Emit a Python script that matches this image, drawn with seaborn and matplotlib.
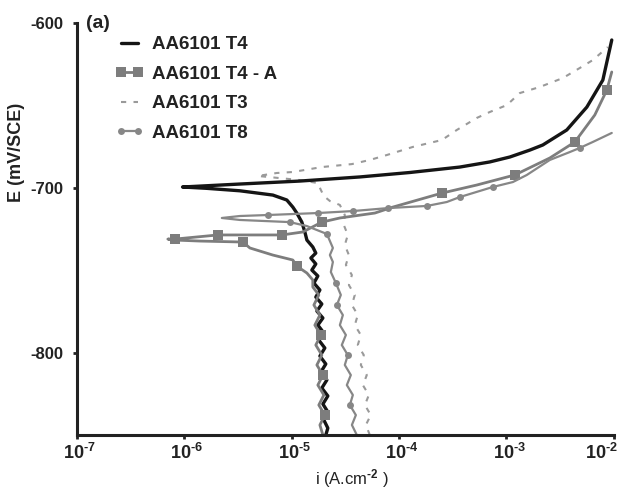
import numpy as np
import pandas as pd
import seaborn as sns
import matplotlib
matplotlib.use("Agg")
import matplotlib.pyplot as plt
import matplotlib.transforms as mtransforms
from matplotlib.lines import Line2D

# Polarisation curves: log10(i [A/cm2]) and E [mV/SCE]
t4_log_i = [-4.682, -4.663, -4.700, -4.663, -4.709, -4.663, -4.719, -4.672, -4.728, -4.682,
            -4.737, -4.691, -4.747, -4.700, -4.756, -4.709, -4.765, -4.719, -4.775, -4.737,
            -4.793, -4.756, -4.812, -4.775, -4.821, -4.775, -4.803, -4.858, -4.877, -4.905,
            -4.952, -4.989, -5.045, -5.175, -5.482, -5.793, -6.016, -5.482, -4.924, -4.365,
            -3.899, -3.434, -3.155, -2.968, -2.782, -2.661, -2.438, -2.251, -2.102, -2.019]
t4_E = [-850.0, -845.8, -840.9, -836.0, -831.2, -826.3, -821.5, -816.6, -811.8, -806.9,
        -802.1, -797.2, -792.4, -788.1, -783.3, -779.0, -774.8, -770.5, -766.3, -762.0,
        -757.8, -753.5, -749.9, -746.2, -742.6, -739.6, -735.9, -731.7, -726.8, -720.8,
        -715.3, -711.7, -707.4, -704.4, -701.8, -700.3, -699.5, -697.7, -695.9, -693.4,
        -690.7, -687.4, -684.3, -681.3, -677.1, -674.0, -664.9, -651.0, -634.6, -610.3]

t4a_log_i = [-4.709, -4.737, -4.691, -4.747, -4.700, -4.756, -4.709, -4.765, -4.719, -4.775,
             -4.728, -4.784, -4.737, -4.793, -4.747, -4.803, -4.803, -4.858, -4.952, -4.989,
             -5.175, -5.389, -5.454, -5.855, -6.088, -6.153, -6.088, -5.687, -5.091, -4.896,
             -4.719, -4.551, -4.225, -4.058, -3.601, -3.276, -2.922, -2.596, -2.363, -2.177,
             -2.065, -2.019]
t4a_E = [-850.0, -843.9, -837.9, -831.8, -825.7, -819.7, -813.6, -807.5, -801.5, -795.4,
         -789.3, -783.3, -777.2, -771.1, -765.0, -760.2, -755.9, -751.7, -747.5, -743.8,
         -740.8, -736.5, -732.9, -732.3, -731.7, -731.1, -731.1, -728.6, -728.6, -726.8,
         -720.8, -718.3, -715.3, -711.7, -703.2, -698.3, -692.2, -681.9, -672.2, -655.8,
         -640.7, -629.7]
t4a_marks = [2, 6, 10, 18, 22, 26, 27, 28, 30, 34, 36, 38, 40]

t3_log_i = [-4.272, -4.309, -4.263, -4.318, -4.281, -4.337, -4.300, -4.356, -4.328, -4.384,
            -4.356, -4.412, -4.384, -4.439, -4.412, -4.467, -4.439, -4.495, -4.467, -4.505,
            -4.477, -4.514, -4.505, -4.551, -4.644, -4.700, -4.728, -4.756, -4.924, -5.110,
            -5.315, -5.138, -4.989, -4.719, -4.439, -4.272, -4.114, -3.872, -3.601, -3.462,
            -3.276, -3.155, -2.996, -2.875, -2.689, -2.475, -2.317, -2.196, -2.056]
t3_E = [-850.0, -843.9, -837.9, -831.8, -825.7, -819.7, -813.6, -807.5, -801.5, -795.4,
        -789.3, -783.3, -777.2, -771.1, -765.0, -759.0, -752.9, -746.8, -740.8, -734.7,
        -728.6, -722.6, -716.5, -710.4, -708.0, -705.0, -701.3, -697.1, -695.3, -694.1,
        -692.8, -691.0, -690.4, -687.4, -685.6, -683.1, -680.1, -675.2, -671.0, -664.9,
        -657.6, -654.0, -649.8, -642.5, -638.8, -633.4, -627.3, -622.5, -614.6]

t8_log_i = [-4.393, -4.439, -4.402, -4.458, -4.430, -4.486, -4.449, -4.505, -4.477, -4.533,
            -4.495, -4.551, -4.523, -4.579, -4.542, -4.588, -4.635, -4.616, -4.644, -4.616,
            -4.672, -4.858, -5.017, -5.482, -5.650, -5.482, -5.222, -4.989, -4.756, -4.430,
            -4.104, -3.741, -3.555, -3.434, -3.127, -2.940, -2.810, -2.596, -2.410, -2.317,
            -2.196, -2.019]
t8_E = [-850.0, -843.9, -837.9, -831.8, -825.7, -819.7, -813.6, -807.5, -801.5, -795.4,
        -789.3, -783.3, -777.2, -771.1, -765.0, -757.8, -751.1, -745.0, -740.8, -736.5,
        -728.0, -723.2, -720.8, -719.5, -718.3, -717.1, -716.5, -715.9, -715.3, -714.1,
        -712.3, -711.0, -708.6, -705.6, -699.5, -696.5, -692.2, -683.1, -678.3, -675.8,
        -672.2, -666.7]
t8_marks = [3, 8, 13, 15, 20, 22, 26, 28, 29, 30, 31, 33, 34, 39]

labels = ["AA6101 T4", "AA6101 T4 - A", "AA6101 T3", "AA6101 T8"]
x_ticks = [1e-7, 1e-6, 1e-5, 1e-4, 1e-3, 1e-2]
x_ticklabels = [r"$\mathrm{10}^{\text{-}7}$", r"$\mathrm{10}^{\text{-}6}$", r"$\mathrm{10}^{\text{-}5}$",
                r"$\mathrm{10}^{\text{-}4}$", r"$\mathrm{10}^{\text{-}3}$", r"$\mathrm{10}^{\text{-}2}$"]
y_ticks = [-600, -700, -800]

sns.set_style("ticks")
plt.rcParams['font.family'] = ['Liberation Sans', 'DejaVu Sans']
plt.rcParams['mathtext.fontset'] = 'custom'
plt.rcParams['mathtext.rm'] = 'Liberation Sans:bold'
plt.rcParams['mathtext.bf'] = 'Liberation Sans:bold'
plt.rcParams['mathtext.it'] = 'Liberation Sans:italic'

fig = plt.figure(figsize=(6.2, 4.93), dpi=100)
ax = fig.add_axes([0.124, 0.1176, 0.866, 0.8357])
ax.set_xscale('log')

c_t4 = "#151515"
c_t4a = "#7d7d7d"
c_t3 = "#9a9a9a"
c_t8 = "#878787"
c_txt = "#222222"

def curve(log_i, E):
    return pd.DataFrame({"i": 10 ** np.array(log_i), "E": E})

sns.lineplot(data=curve(t3_log_i, t3_E), x="i", y="E", ax=ax, sort=False, estimator=None,
             color=c_t3, linewidth=1.5, linestyle=(0, (2.5, 3.5)))
sns.lineplot(data=curve(t4_log_i, t4_E), x="i", y="E", ax=ax, sort=False, estimator=None,
             color=c_t4, linewidth=2.4)
sns.lineplot(data=curve(t4a_log_i, t4a_E), x="i", y="E", ax=ax, sort=False, estimator=None,
             color=c_t4a, linewidth=2.0, marker="s", markersize=6.5, markeredgewidth=0,
             markevery=t4a_marks)
sns.lineplot(data=curve(t8_log_i, t8_E), x="i", y="E", ax=ax, sort=False, estimator=None,
             color=c_t8, linewidth=1.6, marker="o", markersize=5, markeredgewidth=0,
             markevery=t8_marks)

ax.set_xlim(1e-7, 1e-2)
ax.set_ylim(-850, -600)
ax.set_xticks(x_ticks)
ax.set_xticklabels(x_ticklabels, fontsize=13, color=c_txt)
ax.xaxis.set_minor_locator(matplotlib.ticker.NullLocator())
ax.set_yticks(y_ticks)
ax.set_yticklabels([str(v) for v in y_ticks], fontsize=12, fontweight="bold", color=c_txt)
ax.tick_params(axis="both", length=3, width=2.0, color=c_txt)
ax.tick_params(axis="x", pad=2.5)
ax.tick_params(axis="y", pad=6.5)

# keep the "10" of each power centred under its tick, last one pulled inside
for k, lab in enumerate(ax.get_xticklabels()):
    if k == len(x_ticks) - 1:
        lab.set_ha("right")
        dx = 3 / 72
    else:
        lab.set_ha("left")
        dx = -10 / 72
    lab.set_transform(lab.get_transform() + mtransforms.ScaledTranslation(dx, 0, fig.dpi_scale_trans))

for side in ["top", "right"]:
    ax.spines[side].set_visible(False)
for side in ["left", "bottom"]:
    ax.spines[side].set_linewidth(2.2)
    ax.spines[side].set_color(c_txt)

ax.set_xlabel(r"i (A.cm$^{\text{-}2}$ )", fontsize=12, color=c_txt)
ax.xaxis.set_label_coords(0.512, -0.078)
ax.set_ylabel("E (mV/SCE)", fontsize=13, fontweight="bold", color=c_txt)
ax.yaxis.set_label_coords(-0.097, 0.687)

ax.text(0.017, 1.0, "(a)", transform=ax.transAxes, fontsize=14, fontweight="bold",
        color=c_txt, va="center", ha="left")

handles = [
    Line2D([], [], color=c_t4, linewidth=2.4),
    Line2D([], [], color=c_t4a, linewidth=2.0, marker="s", markersize=6.5, markeredgewidth=0),
    Line2D([], [], color=c_t3, linewidth=1.5, linestyle=(0, (2.5, 3.5))),
    Line2D([], [], color=c_t8, linewidth=1.6, marker="o", markersize=5, markeredgewidth=0),
]
leg = ax.legend(handles, labels, loc="upper left", bbox_to_anchor=(0.072, 0.968),
                frameon=False, numpoints=2, handlelength=1.5, handletextpad=0.43,
                labelspacing=0.66, borderpad=0, borderaxespad=0,
                prop={"size": 13.5, "weight": "bold"})
for t in leg.get_texts():
    t.set_color(c_txt)

fig.savefig("out.png", dpi=100)
